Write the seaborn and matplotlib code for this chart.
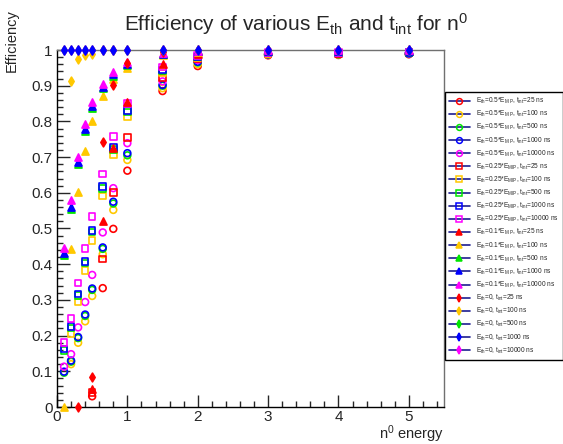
import numpy as np
import pandas as pd
import matplotlib
matplotlib.use("Agg")
import matplotlib.pyplot as plt
from matplotlib.lines import Line2D
from matplotlib.ticker import MultipleLocator, FuncFormatter
import seaborn as sns

# n0 energy points
energies = [0.1, 0.2, 0.3, 0.4, 0.5, 0.65, 0.8, 1.0, 1.5, 2, 3, 4, 5]
nan = np.nan

# E_th = 0.5*E_MIP (open circles)
c05_25 = [nan, nan, nan, nan, 0.03, 0.333, 0.499, 0.662, 0.885, 0.955, 0.985, 0.986, 0.988]
c05_100 = [nan, 0.12, 0.18, 0.24, 0.311, 0.428, 0.552, 0.692, 0.893, 0.96, 0.987, 0.987, 0.989]
c05_500 = [0.096, 0.127, 0.193, 0.255, 0.328, 0.443, 0.57, 0.705, 0.9, 0.965, 0.988, 0.988, 0.99]
c05_1000 = [0.099, 0.13, 0.196, 0.259, 0.332, 0.447, 0.575, 0.711, 0.902, 0.967, 0.988, 0.989, 0.99]
c05_10000 = [0.113, 0.148, 0.223, 0.294, 0.37, 0.489, 0.613, 0.739, 0.912, 0.972, 0.99, 0.99, 0.991]

# E_th = 0.25*E_MIP (open squares)
s025_25 = [nan, nan, nan, nan, 0.04, 0.415, 0.601, 0.755, 0.922, 0.975, 0.99, 0.99, 0.992]
s025_100 = [nan, 0.206, 0.294, 0.382, 0.466, 0.591, 0.706, 0.813, 0.935, 0.978, 0.99, 0.991, 0.992]
s025_500 = [0.158, 0.221, 0.312, 0.403, 0.49, 0.612, 0.722, 0.826, 0.942, 0.98, 0.992, 0.992, 0.993]
s025_1000 = [0.162, 0.225, 0.316, 0.407, 0.494, 0.617, 0.727, 0.83, 0.944, 0.981, 0.992, 0.992, 0.993]
s025_10000 = [0.18, 0.248, 0.348, 0.444, 0.533, 0.652, 0.757, 0.85, 0.952, 0.984, 0.993, 0.993, 0.994]

# E_th = 0.1*E_MIP (filled triangles)
t01_25 = [nan, nan, nan, nan, 0.05, 0.522, 0.725, 0.853, 0.962, 0.99, 0.996, 0.996, 0.997]
t01_100 = [0.0, 0.443, 0.603, 0.717, 0.80, 0.872, 0.919, 0.949, 0.985, 0.995, 0.997, 0.997, 0.998]
t01_500 = [0.425, 0.556, 0.68, 0.773, 0.838, 0.893, 0.928, 0.957, 0.99, 0.997, 0.998, 0.998, 0.998]
t01_1000 = [0.43, 0.561, 0.685, 0.778, 0.843, 0.897, 0.932, 0.96, 0.99, 0.997, 0.998, 0.998, 0.998]
t01_10000 = [0.446, 0.58, 0.70, 0.792, 0.855, 0.906, 0.939, 0.965, 0.992, 0.998, 0.999, 0.999, 0.999]

# E_th = 0 (filled diamonds)
d0_25 = [nan, nan, 0.0, nan, 0.085, 0.743, 0.902, 0.963, 0.995, 1, 1, 1, 1]
d0_100 = [nan, 0.913, 0.975, 0.986, 0.989, 1, 1, 1, 1, 1, 1, 1, 1]
d0_500 = [1, 1, 1, 1, 1, 1, 1, 1, 1, 1, 1, 1, 1]
d0_1000 = [1, 1, 1, 1, 1, 1, 1, 1, 1, 1, 1, 1, 1]
d0_10000 = [1, 1, 1, 1, 1, 1, 1, 1, 1, 1, 1, 1, 1]

thresholds = ["0.5*E$_{\\rm MIP}$", "0.25*E$_{\\rm MIP}$", "0.1*E$_{\\rm MIP}$", "0"]
tints = ["25", "100", "500", "1000", "10000"]
series = [
    [c05_25, c05_100, c05_500, c05_1000, c05_10000],
    [s025_25, s025_100, s025_500, s025_1000, s025_10000],
    [t01_25, t01_100, t01_500, t01_1000, t01_10000],
    [d0_25, d0_100, d0_500, d0_1000, d0_10000],
]

colors = ["#ff0000", "#ffc800", "#00e600", "#0000ff", "#ff00ff"]
markers = ["o", "s", "^", "d"]
filled = [False, False, True, True]
sizes = [24, 22, 26, 20]

sns.set_style("ticks")
plt.rcParams["font.family"] = ["Liberation Sans", "DejaVu Sans"]
plt.rcParams["mathtext.fontset"] = "custom"
plt.rcParams["mathtext.rm"] = "Liberation Sans"
plt.rcParams["mathtext.it"] = "Liberation Sans:italic"

fig = plt.figure(figsize=(5.63, 4.44), dpi=100)
ax = fig.add_axes([57 / 563, 1 - 407 / 444, (444 - 57) / 563, (407 - 50) / 444])

handles = []
labels = []
for i, thr in enumerate(thresholds):
    for j, tint in enumerate(tints):
        df = pd.DataFrame({"energy": energies, "eff": series[i][j]}).dropna()
        c = colors[j]
        fc = c if filled[i] else "none"
        z = 3
        if i == 3 and j == 3:
            z = 4
        sns.scatterplot(data=df, x="energy", y="eff", marker=markers[i], s=sizes[i],
                        color=c, facecolor=fc, edgecolor=c, linewidth=1.2,
                        ax=ax, zorder=z, legend=False, clip_on=False)
        handles.append(Line2D([], [], color="#1c1c90", lw=1.2, marker=markers[i],
                              markersize=4.2, markerfacecolor=fc, markeredgecolor=c,
                              markeredgewidth=1.1))
        labels.append("E$_{\\rm th}$=" + thr + ", t$_{\\rm int}$=" + tint + " ns")

ax.set_xlim(0, 5.5)
ax.set_ylim(0, 1)
ax.xaxis.set_major_locator(MultipleLocator(1))
ax.xaxis.set_minor_locator(MultipleLocator(0.2))
ax.yaxis.set_major_locator(MultipleLocator(0.1))
ax.yaxis.set_minor_locator(MultipleLocator(0.02))
ax.yaxis.set_major_formatter(FuncFormatter(lambda v, p: "%g" % round(v, 2)))
ax.xaxis.set_major_formatter(FuncFormatter(lambda v, p: "%g" % v))
ax.tick_params(which="major", direction="in", length=9, width=1, labelsize=11, pad=3)
ax.tick_params(axis="x", which="major", pad=2)
ax.tick_params(which="minor", direction="in", length=4.5, width=1)
ax.set_xlabel("")
ax.set_ylabel("")
for sp in ax.spines.values():
    sp.set_color("black")
    sp.set_linewidth(1)
ax.spines["top"].set_color("#707070")
ax.spines["right"].set_color("#707070")

fig.text(296 / 563, 1 - 24 / 444, "Efficiency of various E$_{\\rm th}$ and t$_{\\rm int}$ for n$^{0}$",
         ha="center", va="center", fontsize=15)
fig.text(12 / 563, 1 - 9 / 444, "Efficiency", rotation=90, ha="center", va="top", fontsize=10.5)
fig.text(444 / 563, 1 - 439 / 444, "n$^{0}$ energy", ha="right", va="baseline", fontsize=10.5)

leg = ax.legend(handles, labels, loc="upper left", bbox_to_anchor=(445 / 563, 1 - 92 / 444),
                bbox_transform=fig.transFigure, fontsize=4.7, frameon=True, fancybox=False,
                edgecolor="black", framealpha=1, handlelength=3.2, handletextpad=0.9,
                labelspacing=0.45, borderpad=0.6, borderaxespad=0)
leg.get_frame().set_linewidth(1)

fig.savefig("out.png", dpi=100)
